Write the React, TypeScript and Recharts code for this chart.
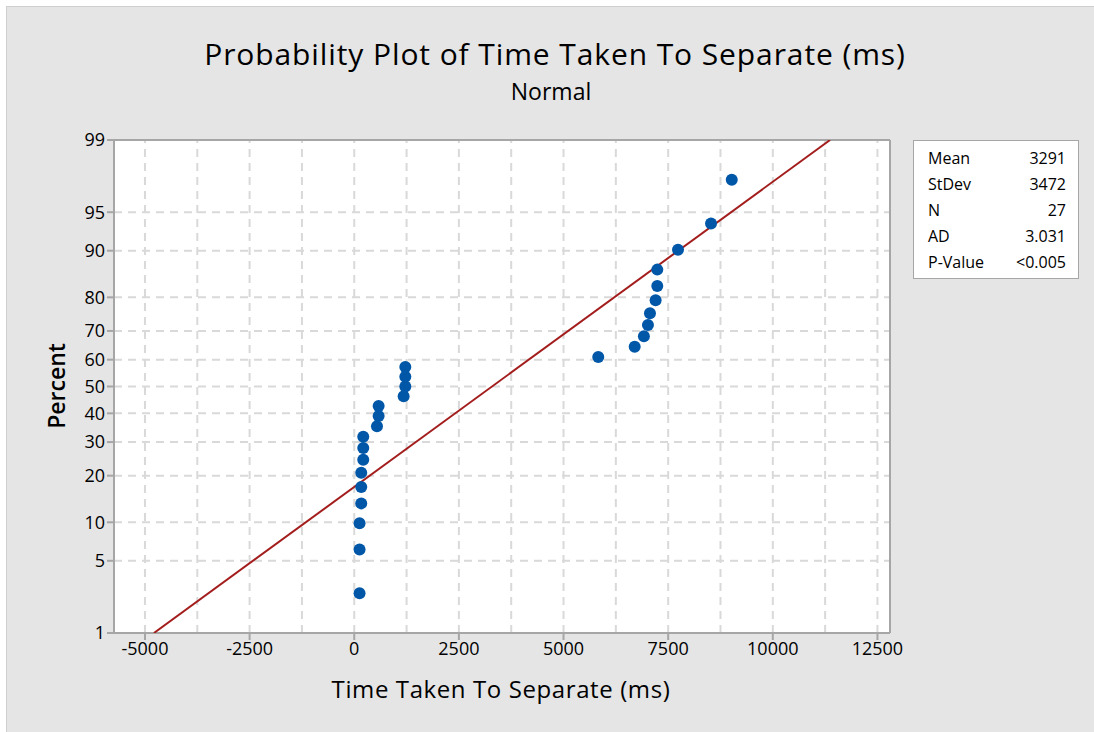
import React from 'react';
import { ScatterChart, Scatter, XAxis, YAxis, CartesianGrid, ReferenceLine } from 'recharts';

// observed times (ms), sorted, and their plotted percent positions
const timeMs = [127, 127, 127, 167, 167, 167, 215, 215, 215, 543, 582, 582, 1180, 1220, 1220, 1220, 5830, 6700, 6920, 7017, 7065, 7200, 7240, 7240, 7735, 8524, 9019];
const percent = [2.55, 6.2, 9.85, 13.5, 17.15, 20.8, 24.45, 28.1, 31.75, 35.4, 39.05, 42.7, 46.35, 50, 53.65, 57.3, 60.95, 64.6, 68.25, 71.9, 75.55, 79.2, 82.85, 86.5, 90.15, 93.8, 97.45];

// fitted normal line end points
const fitTime = [-4786, 11368];
const fitPercent = [1, 99];

const yTickPercents = [1, 5, 10, 20, 30, 40, 50, 60, 70, 80, 90, 95, 99];
const xTicks = [-5000, -2500, 0, 2500, 5000, 7500, 10000, 12500];
const xGrid = [-5000, -3750, -2500, -1250, 0, 1250, 2500, 3750, 5000, 6250, 7500, 8750, 10000, 11250, 12500];

const stats = [
  { label: 'Mean', value: '3291' },
  { label: 'StDev', value: '3472' },
  { label: 'N', value: '27' },
  { label: 'AD', value: '3.031' },
  { label: 'P-Value', value: '<0.005' },
];

// inverse standard normal cdf (Acklam)
function normInv(p: number) {
  const a = [-39.69683028665376, 220.9460984245205, -275.9285104469687, 138.357751867269, -30.66479806614716, 2.506628277459239];
  const b = [-54.47609879822406, 161.5858368580409, -155.6989798598866, 66.80131188771972, -13.28068155288572];
  const c = [-0.007784894002430293, -0.3223964580411365, -2.400758277161838, -2.549732539343734, 4.374664141464968, 2.938163982698783];
  const d = [0.007784695709041462, 0.3224671290700398, 2.445134137142996, 3.754408661907416];
  const plow = 0.02425;
  if (p < plow) {
    const q = Math.sqrt(-2 * Math.log(p));
    return (((((c[0] * q + c[1]) * q + c[2]) * q + c[3]) * q + c[4]) * q + c[5]) / ((((d[0] * q + d[1]) * q + d[2]) * q + d[3]) * q + 1);
  }
  if (p > 1 - plow) {
    const q = Math.sqrt(-2 * Math.log(1 - p));
    return -(((((c[0] * q + c[1]) * q + c[2]) * q + c[3]) * q + c[4]) * q + c[5]) / ((((d[0] * q + d[1]) * q + d[2]) * q + d[3]) * q + 1);
  }
  const q = p - 0.5;
  const r = q * q;
  return (((((a[0] * r + a[1]) * r + a[2]) * r + a[3]) * r + a[4]) * r + a[5]) * q / (((((b[0] * r + b[1]) * r + b[2]) * r + b[3]) * r + b[4]) * r + 1);
}

const z = (pct: number) => normInv(pct / 100);

const points = timeMs.map((t, i) => ({ x: t, y: z(percent[i]) }));
const fitLine = fitTime.map((t, i) => ({ x: t, y: z(fitPercent[i]) }));
const yTicks = yTickPercents.map(z);
const yMin = z(1);
const yMax = z(99);
const xMin = -5740;
const xMax = 12800;

const FONT = '"Open Sans", "Noto Sans", sans-serif';
const GRID = '#d9d9d9';
const FRAME = '#a6a6a6';

const fmtY = (v: number) => {
  const i = yTicks.findIndex((t) => Math.abs(t - v) < 1e-6);
  return i >= 0 ? String(yTickPercents[i]) : '';
};

export default function App() {
  return (
    <div style={{ position: 'absolute', left: 0, top: 0, width: 1094, height: 732, background: '#fff', fontFamily: FONT }}>
      <div style={{ position: 'absolute', left: 6, top: 6, width: 1088, height: 726, background: '#e5e5e5', borderLeft: '1px solid #cfcfcf', borderTop: '1px solid #cfcfcf' }} />
      <div style={{ position: 'absolute', left: 555, top: 33, transform: 'translateX(-50%)', whiteSpace: 'nowrap', fontSize: 30, fontWeight: 500, letterSpacing: 0.9, color: '#000' }}>
        Probability Plot of Time Taken To Separate (ms)
      </div>
      <div style={{ position: 'absolute', left: 551, top: 75, transform: 'translateX(-50%)', whiteSpace: 'nowrap', fontSize: 23, fontWeight: 500, color: '#000' }}>
        Normal
      </div>
      <div style={{ position: 'absolute', left: 0, top: 0 }}>
        <ScatterChart width={1094} height={732} margin={{ top: 140, right: 204, bottom: 69, left: 54 }}>
          <CartesianGrid fill="#fff" horizontal={false} vertical={false} />
          <XAxis
            type="number"
            dataKey="x"
            domain={[xMin, xMax]}
            ticks={xTicks}
            allowDataOverflow
            height={30}
            tick={{ fill: '#000', fontSize: 18, fontFamily: FONT }}
            tickLine={{ stroke: FRAME, strokeWidth: 2 }}
            tickSize={7}
            axisLine={{ stroke: FRAME, strokeWidth: 2 }}
          />
          <YAxis
            type="number"
            dataKey="y"
            domain={[yMin, yMax]}
            ticks={yTicks}
            allowDataOverflow
            width={60}
            tickFormatter={fmtY}
            tick={{ fill: '#000', fontSize: 18, fontFamily: FONT }}
            tickLine={{ stroke: FRAME, strokeWidth: 2 }}
            tickSize={7}
            axisLine={{ stroke: FRAME, strokeWidth: 2 }}
          />
          {xGrid.map((g) => (
            <ReferenceLine key={'vx' + g} x={g} stroke={GRID} strokeWidth={2} strokeDasharray="8 6" />
          ))}
          {yTicks.slice(1, -1).map((g) => (
            <ReferenceLine key={'hy' + g} y={g} stroke={GRID} strokeWidth={2} strokeDasharray="8 6" />
          ))}
          <ReferenceLine x={xMax} stroke={FRAME} strokeWidth={2} />
          <ReferenceLine y={yMax} stroke={FRAME} strokeWidth={2} />
          <Scatter
            data={fitLine}
            line={{ stroke: '#a31d1d', strokeWidth: 2 }}
            shape={() => <g />}
            isAnimationActive={false}
          />
          <Scatter
            data={points}
            fill="#0057a8"
            shape={(p: any) => <circle cx={p.cx} cy={p.cy} r={6} fill="#0057a8" />}
            isAnimationActive={false}
          />
        </ScatterChart>
      </div>
      <div style={{ position: 'absolute', left: 501, top: 672, transform: 'translateX(-50%)', whiteSpace: 'nowrap', fontSize: 24, fontWeight: 500, letterSpacing: 0.6, color: '#000' }}>
        Time Taken To Separate (ms)
      </div>
      <div style={{ position: 'absolute', left: 56, top: 386, transform: 'translate(-50%, -50%) rotate(-90deg)', whiteSpace: 'nowrap', fontSize: 23, fontWeight: 600, color: '#000' }}>
        Percent
      </div>
      <div style={{ position: 'absolute', left: 913, top: 140, width: 164, height: 137, background: '#fff', border: '1px solid #a6a6a6', fontSize: 16, fontWeight: 500, color: '#000' }}>
        {stats.map((s, i) => (
          <div key={s.label} style={{ position: 'absolute', left: 14, right: 12, top: 6 + i * 26, display: 'flex', justifyContent: 'space-between' }}>
            <span>{s.label}</span>
            <span>{s.value}</span>
          </div>
        ))}
      </div>
    </div>
  );
}
